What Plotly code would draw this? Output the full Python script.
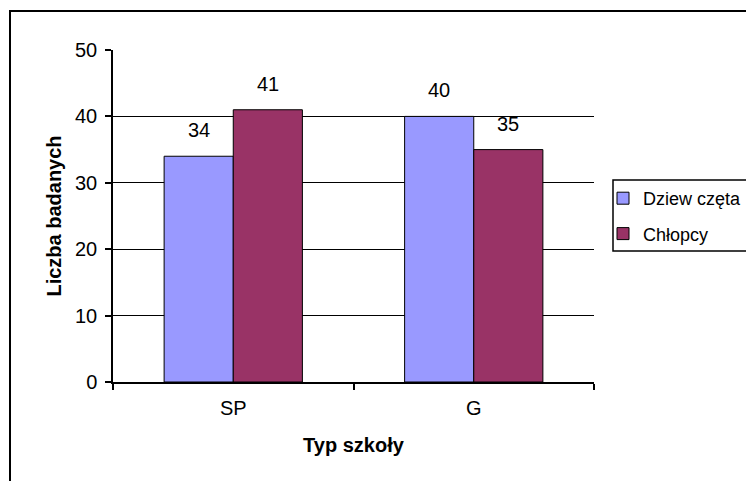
import plotly.graph_objects as go

categories = ["SP", "G"]
series_names = ["Dziew częta", "Chłopcy"]
dziewczeta = [34, 40]
chlopcy = [41, 35]
series_values = [dziewczeta, chlopcy]
colors = ["#9999FF", "#993366"]
y_ticks = [0, 10, 20, 30, 40, 50]

OFF = 8  # page body margin in the browser
W, H = 754 - 2 * OFF, 489 - 2 * OFF
L, R, T, B = 113 - OFF, 594 - OFF, 50 - OFF, 382 - OFF
FONT = "Liberation Sans, Arial, sans-serif"
FS = 20
bargap = 0.425

fig = go.Figure()
for i, (name, vals, col) in enumerate(zip(series_names, series_values, colors)):
    fig.add_trace(go.Bar(
        x=categories, y=vals, name=name, legendgroup=str(i),
        marker=dict(color=col, line=dict(color="black", width=1)),
    ))

# data labels above bars
n = len(series_values)
bw = (1 - bargap) / n
for si, vals in enumerate(series_values):
    for ci, v in enumerate(vals):
        off = -(1 - bargap) / 2 + bw * (si + 0.5)
        fig.add_annotation(x=ci + off, y=v, text=str(v), showarrow=False,
                           yanchor="bottom", yshift=13,
                           font=dict(family=FONT, size=FS, color="black"))

def px_x(p):
    return (p - OFF - L) / (R - L)

def px_y(p):
    return (B - (p - OFF)) / (B - T)

shapes = [
    # outer chart border (only top/left visible)
    dict(type="rect", xref="paper", yref="paper",
         x0=px_x(10), x1=px_x(800), y0=px_y(11), y1=px_y(560),
         line=dict(color="black", width=2), layer="above"),
    # legend border
    dict(type="rect", xref="paper", yref="paper",
         x0=px_x(613), x1=px_x(800), y0=px_y(180), y1=px_y(251),
         line=dict(color="black", width=1.5)),
]

fig.update_layout(
    width=W, height=H,
    margin=dict(l=L, r=W - R, t=T, b=H - B, pad=0, autoexpand=False),
    paper_bgcolor="white", plot_bgcolor="white",
    barmode="group", bargap=bargap, bargroupgap=0,
    font=dict(family=FONT, size=FS, color="black"),
    showlegend=True,
    legend=dict(x=px_x(603), y=px_y(180), xanchor="left", yanchor="top",
                bgcolor="rgba(0,0,0,0)", borderwidth=0,
                font=dict(family=FONT, size=18, color="black"),
                traceorder="grouped", tracegroupgap=9, itemwidth=30),
    shapes=shapes,
    xaxis=dict(
        type="category", showgrid=False, showline=True, linecolor="black", linewidth=1.5,
        ticks="outside", tickson="boundaries", ticklen=6, tickcolor="black", tickwidth=1.5,
        tickfont=dict(family=FONT, size=FS), ticklabelstandoff=7,
        title=dict(text="<b>Typ szkoły</b>", font=dict(family=FONT, size=FS), standoff=20),
        range=[-0.5, 1.5],
    ),
    yaxis=dict(
        range=[0, 50], tickvals=y_ticks, showgrid=True, gridcolor="black", gridwidth=1,
        showline=True, linecolor="black", linewidth=1.5, zeroline=False,
        ticks="outside", ticklen=6, tickcolor="black", tickwidth=1.5,
        tickfont=dict(family=FONT, size=FS), ticklabelstandoff=4,
        title=dict(text="<b>Liczba badanych</b>", font=dict(family=FONT, size=FS), standoff=8),
    ),
)

fig.write_html("out.html")
